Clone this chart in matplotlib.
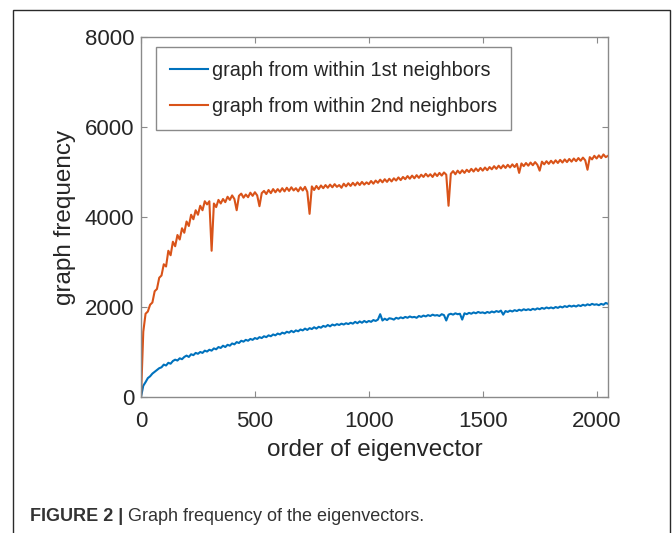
import numpy as np
import matplotlib
matplotlib.use("Agg")
import matplotlib.pyplot as plt
from matplotlib.patches import Rectangle

plt.rcParams['font.family'] = ['Liberation Sans', 'DejaVu Sans']

order = np.arange(0, 2051, 10)

freq_1st = [
    0, 250, 330, 420, 460, 520, 560, 600, 640, 660,
    720, 700, 760, 740, 800, 830, 810, 860, 840, 890,
    920, 890, 950, 930, 980, 960, 1000, 980, 1030, 1010,
    1050, 1030, 1080, 1060, 1110, 1090, 1140, 1110, 1160, 1140,
    1190, 1170, 1220, 1200, 1250, 1230, 1270, 1250, 1290, 1270,
    1310, 1290, 1330, 1310, 1350, 1330, 1370, 1350, 1390, 1370,
    1410, 1390, 1430, 1410, 1450, 1430, 1470, 1440, 1480, 1460,
    1500, 1480, 1520, 1490, 1530, 1510, 1550, 1520, 1560, 1540,
    1580, 1560, 1600, 1570, 1610, 1590, 1620, 1600, 1630, 1610,
    1640, 1620, 1650, 1630, 1670, 1640, 1680, 1650, 1690, 1660,
    1690, 1670, 1710, 1690, 1720, 1840, 1700, 1740, 1710, 1750,
    1740, 1720, 1760, 1740, 1770, 1750, 1780, 1760, 1790, 1770,
    1780, 1760, 1800, 1780, 1810, 1790, 1820, 1800, 1830, 1810,
    1820, 1800, 1840, 1820, 1700, 1830, 1850, 1830, 1860, 1840,
    1850, 1720, 1860, 1840, 1870, 1850, 1880, 1860, 1890, 1870,
    1880, 1860, 1890, 1870, 1900, 1880, 1910, 1890, 1920, 1830,
    1910, 1890, 1920, 1900, 1930, 1910, 1940, 1920, 1950, 1930,
    1950, 1930, 1960, 1940, 1970, 1950, 1980, 1960, 1990, 1970,
    1990, 1970, 2000, 1980, 2010, 1990, 2020, 2000, 2030, 2010,
    2030, 2010, 2040, 2020, 2050, 2030, 2060, 2040, 2070, 2050,
    2060, 2040, 2070, 2050, 2090, 2070,
]

freq_2nd = [
    0, 1450, 1850, 1900, 2050, 2100, 2350, 2400, 2650, 2700,
    2950, 2900, 3250, 3150, 3450, 3350, 3600, 3500, 3750, 3650,
    3900, 3800, 4050, 3950, 4150, 4050, 4250, 4150, 4350, 4280,
    4350, 3250, 4300, 4220, 4380, 4300, 4400, 4330, 4450, 4380,
    4480, 4400, 4150, 4470, 4520, 4430, 4500, 4440, 4540, 4470,
    4550, 4480, 4240, 4530, 4580, 4510, 4600, 4530, 4620, 4550,
    4620, 4560, 4640, 4570, 4650, 4580, 4660, 4590, 4640, 4570,
    4660, 4590, 4670, 4560, 4070, 4680, 4600, 4690, 4620, 4700,
    4640, 4710, 4650, 4720, 4660, 4730, 4670, 4710, 4650, 4740,
    4680, 4750, 4690, 4760, 4700, 4770, 4710, 4780, 4720, 4770,
    4730, 4800, 4740, 4810, 4760, 4830, 4770, 4840, 4780, 4850,
    4790, 4860, 4810, 4880, 4820, 4890, 4840, 4910, 4850, 4920,
    4860, 4930, 4870, 4940, 4890, 4960, 4900, 4950, 4890, 4970,
    4910, 4980, 4920, 4990, 4940, 4250, 4960, 5020, 4950, 5030,
    4970, 5040, 4980, 5050, 5000, 5070, 5010, 5080, 5020, 5090,
    5030, 5100, 5040, 5110, 5060, 5130, 5070, 5140, 5080, 5150,
    5090, 5160, 5100, 5170, 5110, 5180, 4980, 5190, 5130, 5200,
    5140, 5210, 5150, 5220, 5160, 5030, 5230, 5170, 5240, 5180,
    5250, 5190, 5260, 5200, 5270, 5210, 5280, 5220, 5290, 5230,
    5300, 5240, 5310, 5250, 5320, 5260, 5050, 5330, 5280, 5360,
    5300, 5370, 5310, 5390, 5330, 5360,
]

series_labels = ["graph from within 1st neighbors", "graph from within 2nd neighbors"]
x_ticks = [0, 500, 1000, 1500, 2000]
y_ticks = [0, 2000, 4000, 6000, 8000]
x_label = "order of eigenvector"
y_label = "graph frequency"
caption_bold = "FIGURE 2 |"
caption_text = " Graph frequency of the eigenvectors."

# ---- figure ----
W, H = 672, 533
fig = plt.figure(figsize=(W / 100, H / 100), dpi=100)
fig.patch.set_facecolor("white")

# outer frame
fig.patches.append(Rectangle((13 / W, -0.05), (670 - 13) / W, 1.05 - 10 / H,
                             transform=fig.transFigure, fill=False,
                             edgecolor="#2a2a2a", linewidth=1.0))

ax = fig.add_axes([141 / W, 1 - 397 / H, (608 - 141) / W, 360 / H])

ax.plot(order, freq_1st, color="#0072BD", linewidth=1.5, label=series_labels[0])
ax.plot(order, freq_2nd, color="#D95319", linewidth=1.5, label=series_labels[1])

ax.set_xlim(0, 2050)
ax.set_ylim(0, 8000)
ax.set_xticks(x_ticks)
ax.set_yticks(y_ticks)

axis_col = "#8a8a8a"
for s in ax.spines.values():
    s.set_color(axis_col)
    s.set_linewidth(1.0)
ax.tick_params(direction="in", length=4, width=0.8, color=axis_col,
               top=True, right=True, labelsize=16, labelcolor="#262626")
ax.tick_params(axis="x", pad=10)
ax.tick_params(axis="y", pad=5)

ax.set_xlabel(x_label, fontsize=17.5, color="#262626", labelpad=5)
ax.set_ylabel(y_label, fontsize=17.5, color="#262626", labelpad=6)

leg = ax.legend(loc="upper left", bbox_to_anchor=(156 / W, 1 - 47 / H),
                bbox_transform=fig.transFigure, borderaxespad=0,
                fancybox=False, framealpha=1, edgecolor="#8a8a8a",
                fontsize=14.3, handlelength=1.9, handletextpad=0.2,
                borderpad=0.7, labelspacing=0.85)
leg.get_frame().set_linewidth(1.0)
for t in leg.get_texts():
    t.set_color("#262626")

# caption
t1 = fig.text(30 / W, 1 - 521 / H, caption_bold, fontsize=13, fontweight="bold",
              color="#333333", ha="left", va="baseline")
ax.annotate(caption_text, xy=(1, 0), xycoords=t1, va="bottom", ha="left",
            fontsize=13, color="#333333", annotation_clip=False)

fig.savefig("out.png", dpi=100)
